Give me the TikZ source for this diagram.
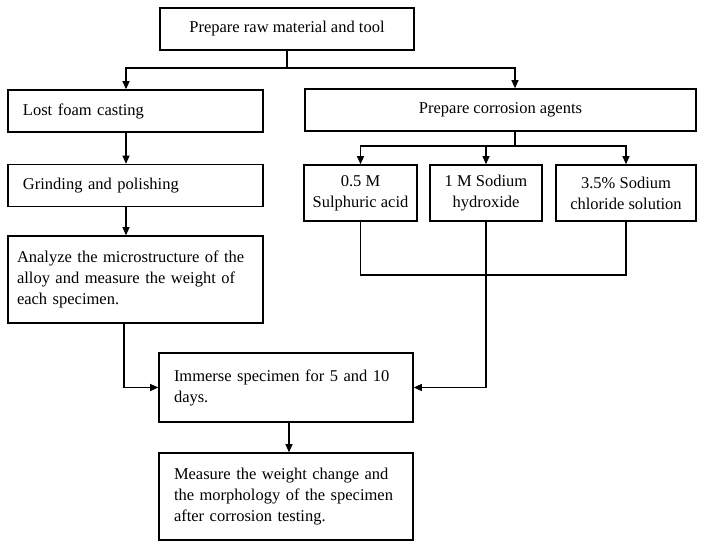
\documentclass[tikz,border=0pt]{standalone}
\usepackage{fontspec}
\setmainfont{Liberation Serif}
\usetikzlibrary{arrows.meta, positioning, calc}

\begin{document}
\begin{tikzpicture}[
    x=1pt, y=-1pt,
    box/.style={draw, line width=1.6pt, minimum height=42pt, inner sep=0pt, font=\fontsize{16.5}{21}\selectfont},
    leftbox/.style={box, align=left, inner xsep=15pt, text width=#1},
    ctrbox/.style={box, align=center, minimum width=#1},
    link/.style={line width=1.1pt},
    arr/.style={link, -{Triangle[length=8pt, width=7pt]}},
]
    \useasboundingbox (0,0) rectangle (704,548);

    % Left column
    \node[ctrbox=254pt] (prep) at (287, 29) {Prepare raw material and tool};
    \node[leftbox=225pt] (lost) at (135.5, 111) {Lost foam casting};
    \node[leftbox=225pt] (grind) at (135.5, 185.5) {Grinding and polishing};
    \node[leftbox=237pt, inner xsep=9pt, minimum height=87pt] (analyze) at (135.5, 279.5)
        {Analyze the microstructure of the\\alloy and measure the weight of\\each specimen.};

    % Corrosion agents
    \node[ctrbox=391pt] (corr) at (500.5, 110) {Prepare corrosion agents};
    \node[ctrbox=113pt, minimum height=56pt] (acid) at (360.5, 193) {0.5 M\\Sulphuric acid};
    \node[ctrbox=112pt, minimum height=56pt] (naoh) at (486, 193) {1 M Sodium\\hydroxide};
    \node[ctrbox=140pt, minimum height=56pt] (nacl) at (626, 193) {3.5\% Sodium\\chloride solution};

    % Testing
    \node[leftbox=224pt, minimum height=69pt] (immerse) at (286, 387.5)
        {Immerse specimen for 5 and 10\\days.};
    \node[leftbox=224pt, minimum height=87pt] (measure) at (286, 496.5)
        {Measure the weight change and\\the morphology of the specimen\\after corrosion testing.};

    % Connectors
    \coordinate (split) at (287, 68);
    \draw[link] (prep.south) -- (split);
    \draw[arr] (split) -| ([xshift=-9.5pt]lost.north);
    \draw[arr] (split) -| ([xshift=14.5pt]corr.north);
    \draw[arr] ([xshift=-9.5pt]lost.south) -- ([xshift=-9.5pt]grind.north);
    \draw[arr] ([xshift=-9.5pt]grind.south) -- ([xshift=-9.5pt]analyze.north);

    \coordinate (agents) at (515, 146);
    \draw[link] ([xshift=14.5pt]corr.south) -- (agents);
    \draw[arr] (agents) -| (acid.north);
    \draw[arr] (agents) -| (naoh.north);
    \draw[arr] (agents) -| (nacl.north);

    \coordinate (merge) at (486, 275);
    \draw[link] (acid.south) |- (merge);
    \draw[link] (nacl.south) |- (merge);
    \draw[arr] (naoh.south) |- (immerse.east);
    \draw[arr] ([xshift=-11.5pt]analyze.south) |- (immerse.west);
    \draw[arr] ([xshift=3pt]immerse.south) -- ([xshift=3pt]measure.north);
\end{tikzpicture}
\end{document}
